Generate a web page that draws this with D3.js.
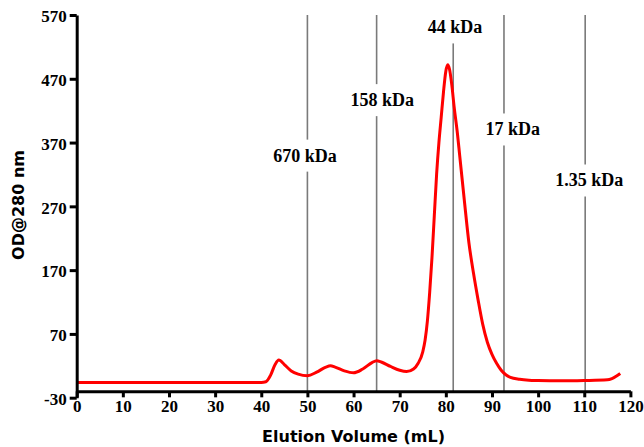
<!DOCTYPE html>
<html>
<head>
<meta charset="utf-8">
<script src="https://cdn.jsdelivr.net/npm/d3@7"></script>
<style>
  body { margin: 0; background: #fff; }
  svg { display: block; }
  .tick text { font-family: "Liberation Serif", "Times New Roman", serif; font-weight: bold; font-size: 17px; fill: #000; }
  .axis-title { font-family: "DejaVu Sans", Verdana, sans-serif; font-weight: bold; font-size: 16px; fill: #000; }
  .marker-label { font-family: "Liberation Serif", "Times New Roman", serif; font-weight: bold; font-size: 18px; fill: #000; }
</style>
</head>
<body>
<svg id="chart" width="644" height="447" viewBox="0 0 644 447"></svg>
<script>
// elution profile (mL, OD@280)
const volume = [0, 10, 20, 30, 40, 41, 42, 43, 43.8, 45, 46.5, 48, 50, 52, 54, 55, 56, 58, 60, 62, 64, 65, 66, 68, 70, 71.5, 73, 74, 75, 75.5, 76, 76.5, 77, 77.5, 78, 78.5, 79, 79.5, 80, 80.4, 80.8, 81.3, 81.8, 82.5, 83, 84, 85, 86, 87, 88, 89, 90, 91, 92, 93, 94, 96, 98, 100, 105, 110, 115, 116, 117, 117.8];
const od280 = [-6, -6, -6, -6, -6, -5, 5, 22, 29, 22, 12, 7, 4.5, 10, 18, 20, 18, 12, 9, 15, 25, 28, 26, 19, 13, 11, 15, 24, 42, 60, 90, 135, 190, 255, 320, 370, 410, 450, 482, 492, 485, 460, 426, 385, 350, 280, 213, 165, 123, 85, 57, 38, 24, 13, 6, 2, -1, -2.5, -3, -3.5, -3, -2, 0, 4, 8];

// size standards
const markerVolume = [50, 65, 81.6, 92.6, 110.2];
const markerNames = ["670 kDa", "158 kDa", "44 kDa", "17 kDa", "1.35 kDa"];
const markerLabelVolume = [49.5, 66.2, 82.0, 94.5, 111.1];
const markerLabelOD = [350, 437, 551, 391, 311];

const xTicks = d3.range(0, 121, 10);
const yTicks = [-30, 70, 170, 270, 370, 470, 570];

const svg = d3.select("#chart");

const x = d3.scaleLinear().domain([0, 120]).range([76.7, 630.4]);
const y = d3.scaleLinear().domain([-30, 570]).range([397.7, 15]);
const xAxisAt = -20;

// marker lines
const markers = markerVolume.map((v, i) => ({
    v, name: markerNames[i], lx: markerLabelVolume[i], ly: markerLabelOD[i]
}));

svg.append("g")
    .selectAll("line")
    .data(markers)
    .enter()
    .append("line")
    .attr("x1", d => x(d.v))
    .attr("x2", d => x(d.v))
    .attr("y1", y(570))
    .attr("y2", y(xAxisAt))
    .attr("stroke", "#7a7a7a")
    .attr("stroke-width", 1.6);

// curve
const line = d3.line()
    .x(d => x(d[0]))
    .y(d => y(d[1]))
    .curve(d3.curveMonotoneX);

svg.append("path")
    .datum(volume.map((v, i) => [v, od280[i]]))
    .attr("d", line)
    .attr("fill", "none")
    .attr("stroke", "#f00")
    .attr("stroke-width", 3)
    .attr("stroke-linejoin", "round");

// labels with gaps cut into the marker lines
const labelGroups = svg.append("g")
    .selectAll("g")
    .data(markers)
    .enter()
    .append("g");

const gaps = labelGroups.append("rect").attr("fill", "#fff");

const labels = labelGroups.append("text")
    .attr("class", "marker-label")
    .attr("text-anchor", "middle")
    .attr("x", d => x(d.lx))
    .attr("y", d => y(d.ly))
    .attr("dy", "0.35em")
    .text(d => d.name);

labels.each(function(d, i) {
    const b = this.getBBox();
    d3.select(gaps.nodes()[i])
        .attr("x", x(d.v) - 4)
        .attr("width", 8)
        .attr("y", b.y - 6)
        .attr("height", b.height + 12);
});

// axes
const yAxis = svg.append("g")
    .attr("transform", `translate(${x(0)},0)`)
    .call(d3.axisLeft(y).tickValues(yTicks).tickFormat(d => String(d))
        .tickSize(7).tickSizeOuter(0).tickPadding(3));

const xAxis = svg.append("g")
    .attr("transform", `translate(0,${y(xAxisAt)})`)
    .call(d3.axisBottom(x).tickValues(xTicks).tickSize(6).tickSizeOuter(0).tickPadding(3));

[xAxis, yAxis].forEach(a => {
    a.select(".domain").attr("stroke", "#000").attr("stroke-width", 3);
    a.selectAll(".tick line").attr("stroke", "#000").attr("stroke-width", 3);
});
yAxis.selectAll(".tick text").attr("dy", "0.4em");

// axis titles
svg.append("text")
    .attr("class", "axis-title")
    .attr("text-anchor", "middle")
    .attr("x", (x(0) + x(120)) / 2)
    .attr("y", 442)
    .text("Elution Volume (mL)");

svg.append("text")
    .attr("class", "axis-title")
    .attr("text-anchor", "middle")
    .attr("transform", "translate(24,205) rotate(-90)")
    .text("OD@280 nm");
</script>
</body>
</html>
